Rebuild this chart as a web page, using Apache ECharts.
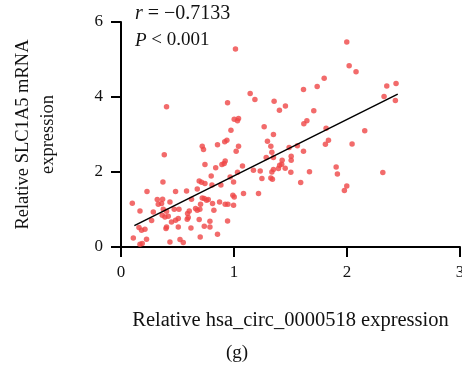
<!DOCTYPE html>
<html>
<head>
<meta charset="utf-8">
<script src="https://cdn.jsdelivr.net/npm/echarts@6/dist/echarts.min.js"></script>
<style>
  html, body { margin: 0; padding: 0; background: #fff; }
  #chart { width: 462px; height: 375px; }
</style>
</head>
<body>
<div id="chart"></div>
<script>
// x: Relative hsa_circ_0000518 expression
const circX = [
  0.719, 0.730, 0.383, 0.743, 0.371, 0.692, 0.713, 0.743, 0.230, 0.483,
  0.580, 0.675, 0.321, 0.368, 0.100, 0.330, 0.359, 0.433, 0.624, 0.704,
  0.737, 0.757, 0.772, 0.719, 0.810, 0.168, 0.286, 0.374, 0.403, 0.471,
  0.513, 0.589, 0.604, 0.660, 0.675, 0.698, 0.822, 0.271, 0.365, 0.389,
  0.418, 0.447, 0.483, 0.507, 0.595, 0.586, 0.692, 0.787, 0.159, 0.182,
  0.212, 0.398, 0.403, 0.507, 0.619, 0.737, 0.787, 0.701, 0.109, 0.226,
  0.433, 0.522, 0.551, 0.168, 0.188, 0.854, 0.937, 0.918, 1.040, 1.019,
  1.296, 1.326, 1.335, 1.488, 1.561, 1.506, 1.506, 1.285, 1.349, 1.426,
  1.422, 1.404, 1.453, 1.393, 0.922, 0.913, 0.893, 0.838, 1.075, 1.349,
  1.335, 1.172, 1.232, 1.503, 1.031, 0.798, 0.966, 0.996, 1.247, 1.326,
  1.340, 0.805, 0.884, 1.590, 1.084, 1.217, 0.990, 1.002, 0.872, 0.922,
  0.946, 0.996, 0.943, 0.854, 0.403, 1.013, 1.143, 1.185, 1.355, 0.943,
  1.455, 1.402, 1.002, 1.040, 1.031, 1.267, 0.973, 1.349, 1.998, 2.019,
  2.080, 1.798, 1.736, 1.615, 2.352, 2.434, 2.328, 2.428, 1.706, 1.645,
  1.618, 1.815, 2.157, 1.836, 1.809, 2.045, 1.615, 1.668, 1.904, 1.915,
  1.998, 1.977, 2.317
];
// y: Relative SLC1A5 mRNA expression
const slcY = [
  2.689, 2.601, 2.457, 2.200, 1.736, 1.762, 1.728, 1.693, 1.479, 1.479,
  1.495, 1.549, 1.266, 1.274, 1.167, 1.140, 1.159, 1.202, 1.274, 1.140,
  1.292, 1.247, 1.266, 1.308, 1.159, 0.961, 0.935, 1.007, 0.953, 1.007,
  1.007, 0.892, 0.961, 1.025, 0.980, 1.007, 0.980, 0.705, 0.846, 0.801,
  0.820, 0.668, 0.713, 0.758, 0.785, 0.740, 0.732, 0.686, 0.518, 0.446,
  0.473, 0.491, 0.534, 0.534, 0.507, 0.553, 0.534, 0.267, 0.240, 0.206,
  0.134, 0.198, 0.117, 0.072, 0.091, 2.724, 2.849, 2.809, 2.689, 2.555,
  2.822, 2.689, 2.529, 2.654, 2.697, 2.422, 2.315, 2.387, 2.387, 2.315,
  2.208, 2.182, 2.101, 2.093, 2.296, 2.227, 2.200, 2.115, 2.163, 2.067,
  2.003, 2.048, 2.029, 1.995, 1.995, 1.896, 1.869, 1.736, 1.826, 1.842,
  1.808, 1.656, 1.656, 1.720, 1.426, 1.426, 1.380, 1.335, 1.202, 1.140,
  1.140, 1.113, 0.694, 0.339, 3.738, 5.279, 4.096, 3.936, 3.890, 3.845,
  3.757, 3.650, 3.410, 3.429, 3.364, 3.204, 3.116, 3.001, 5.466, 4.833,
  4.673, 4.497, 4.283, 4.203, 4.291, 4.363, 4.016, 3.909, 3.632, 3.364,
  3.284, 3.170, 3.097, 2.849, 2.742, 2.750, 2.555, 2.008, 2.136, 1.949,
  1.629, 1.506, 1.987
];
// regression line end points
const fitX = [0.118, 2.449];
const fitY = [0.571, 4.077];

const xTicks = [0, 1, 2, 3];
const yTicks = [0, 2, 4, 6];

const chart = echarts.init(document.getElementById("chart"));
const serif = "Liberation Serif";
const points = circX.map((x, i) => [x, slcY[i]]);
const fitLine = fitX.map((x, i) => [x, fitY[i]]);

const option = {
  animation: false,
  backgroundColor: "#fff",
  textStyle: { fontFamily: serif },
  grid: {
    left: 121,
    right: 2,
    top: 22,
    bottom: 128,
    containLabel: false,
    outerBoundsMode: "none",
  },
  xAxis: {
    type: "value",
    min: xTicks[0],
    max: xTicks[xTicks.length - 1],
    interval: 1,
    name: "Relative hsa_circ_0000518 expression",
    nameLocation: "middle",
    nameGap: 63,
    nameTextStyle: { color: "#111", fontSize: 20.5, fontFamily: serif },
    axisLine: { lineStyle: { color: "#000", width: 2 } },
    axisTick: { length: 10, lineStyle: { color: "#000", width: 2 } },
    axisLabel: { color: "#111", fontSize: 17, margin: 17, fontFamily: serif },
    splitLine: { show: false },
  },
  yAxis: {
    type: "value",
    min: yTicks[0],
    max: yTicks[yTicks.length - 1],
    interval: 2,
    name: "Relative SLC1A5 mRNA\nexpression",
    nameLocation: "middle",
    nameGap: 60,
    nameTextStyle: { color: "#111", fontSize: 18.5, lineHeight: 25, fontFamily: serif },
    axisLine: { lineStyle: { color: "#000", width: 2 } },
    axisTick: { length: 10, lineStyle: { color: "#000", width: 2 } },
    axisLabel: { color: "#111", fontSize: 17, margin: 18, fontFamily: serif },
    splitLine: { show: false },
  },
  series: [
    {
      type: "scatter",
      data: points,
      symbolSize: 5.5,
      itemStyle: { color: "#ef4646" },
      z: 2,
    },
    {
      type: "line",
      data: fitLine,
      showSymbol: false,
      symbol: "none",
      lineStyle: { color: "#000", width: 1.5 },
      z: 3,
    },
  ],
  graphic: [
    {
      type: "text",
      left: 135,
      top: 4,
      style: {
        text: "{i|r} = −0.7133",
        fontSize: 20,
        fontFamily: serif,
        fill: "#111",
        rich: { i: { fontStyle: "italic", fontSize: 20, fontFamily: serif } },
      },
    },
    {
      type: "text",
      left: 135,
      top: 31,
      style: {
        text: "{i|P} < 0.001",
        fontSize: 19,
        fontFamily: serif,
        fill: "#111",
        rich: { i: { fontStyle: "italic", fontSize: 19, fontFamily: serif } },
      },
    },
    {
      type: "text",
      left: 226,
      top: 344,
      style: { text: "(g)", fontSize: 19, fontFamily: serif, fill: "#111" },
    },
  ],
};
chart.setOption(option);
</script>
</body>
</html>
